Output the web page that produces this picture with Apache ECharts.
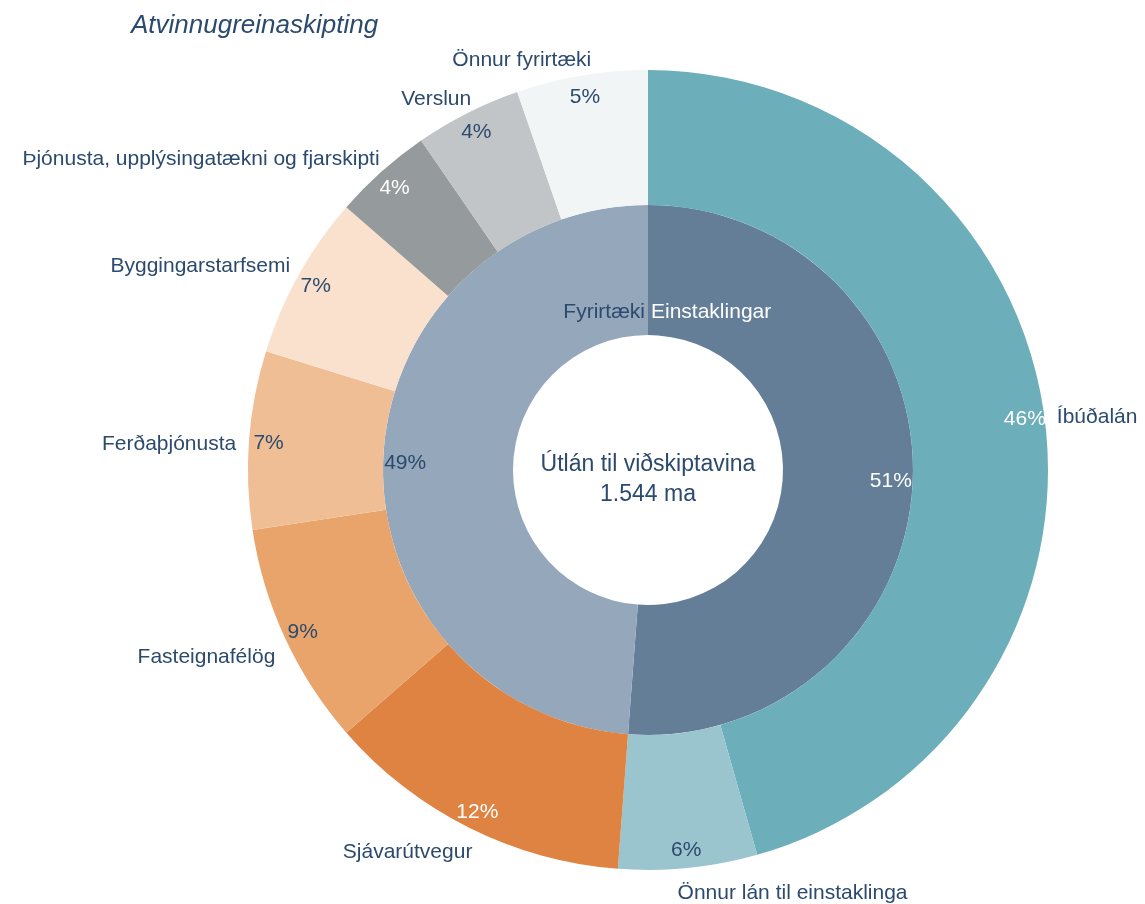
<!DOCTYPE html>
<html>
<head>
<meta charset="utf-8">
<script src="https://cdn.jsdelivr.net/npm/echarts@6/dist/echarts.min.js"></script>
<style>
  html, body { margin: 0; padding: 0; background: #fff; }
  #chart { width: 1145px; height: 904px; }
</style>
</head>
<body>
<div id="chart"></div>
<script>
// inner ring: customer groups
const groupNames = ['Einstaklingar', 'Fyrirtæki'];
const groupColors = ['#647e98', '#95a7bb'];
const groupLabelColors = ['#ffffff', '#2b4a6d'];

// outer ring: sectors (share of loans, %)
const sectorNames = [
  'Íbúðalán', 'Önnur lán til einstaklinga', 'Sjávarútvegur', 'Fasteignafélög',
  'Ferðaþjónusta', 'Byggingarstarfsemi', 'Þjónusta, upplýsingatækni og fjarskipti',
  'Verslun', 'Önnur fyrirtæki'
];
const sectorValues = [45.6, 5.6, 12.4, 9.0, 7.2, 6.6, 4.0, 4.3, 5.3];
const sectorColors = [
  '#6caeba', '#9ac5ce', '#df8342', '#e9a46c', '#f0be94', '#f9e1cd',
  '#959a9c', '#c2c5c8', '#f2f5f6'
];
const sectorLabelColors = [
  '#ffffff', '#2b4a6d', '#ffffff', '#2b4a6d', '#2b4a6d', '#2b4a6d',
  '#ffffff', '#2b4a6d', '#2b4a6d'
];
// individuals = first two sectors, companies = the rest
const groupValues = [
  sectorValues[0] + sectorValues[1],
  sectorValues.slice(2).reduce((a, b) => a + b, 0)
];

const CX = 648, CY = 470;
const textColor = '#2b4a6d';
const font = 'Liberation Sans, Arial, sans-serif';

const chart = echarts.init(document.getElementById('chart'));

chart.setOption({
  backgroundColor: '#fff',
  animation: false,
  title: {
    text: 'Atvinnugreinaskipting',
    left: 126, top: 8,
    textStyle: { fontFamily: font, fontSize: 26, fontStyle: 'italic', fontWeight: 'normal', color: textColor }
  },
  graphic: [{
    type: 'text',
    x: CX, y: CY + 10,
    style: {
      text: 'Útlán til viðskiptavina\n1.544 ma',
      fill: textColor, font: '23px ' + font,
      textAlign: 'center', textVerticalAlign: 'middle', lineHeight: 30
    }
  }],
  series: [
    // inner ring
    {
      type: 'pie', silent: true,
      center: [CX, CY], radius: [135, 265],
      startAngle: 90,
      label: { position: 'inside', formatter: '{b}', fontFamily: font, fontSize: 21 },
      labelLayout: p => {
        const left = p.dataIndex === 1;
        return { x: CX + (left ? -3 : 3), y: CY - 158, align: left ? 'right' : 'left', verticalAlign: 'middle' };
      },
      data: groupNames.map((n, i) => ({
        name: n, value: groupValues[i],
        itemStyle: { color: groupColors[i] },
        label: { color: groupLabelColors[i] }
      }))
    },
    // inner ring percent labels
    {
      type: 'pie', silent: true,
      center: [CX, CY], radius: [215, 265],
      startAngle: 90, percentPrecision: 0,
      label: { position: 'inside', formatter: '{d}%', fontFamily: font, fontSize: 21 },
      labelLayout: { dy: 2 },
      data: groupNames.map((n, i) => ({
        name: n, value: groupValues[i],
        itemStyle: { color: 'transparent' },
        label: { color: groupLabelColors[i] }
      }))
    },
    // outer ring with names outside
    {
      type: 'pie', silent: true,
      center: [CX, CY], radius: [265, 400],
      startAngle: 90,
      label: {
        position: 'outside', formatter: '{b}', distanceToLabelLine: 0,
        fontFamily: font, fontSize: 21, color: textColor
      },
      labelLine: { show: false, length: 8, length2: 0 },
      labelLayout: p => {
        const r = p.labelRect;
        const ax = p.align === 'right' ? r.x + r.width : r.x;
        const ay = r.y + r.height / 2;
        const th = Math.atan2(ax - CX, CY - ay);
        const s = Math.sin(th), c = Math.cos(th);
        const bottom = 4 * Math.max(0, Math.min(1, (-c - 0.5) / 0.4));
        return {
          dx: 5 * s - Math.sign(s) * c * c * 12,
          dy: 3 + 4 * (1 - Math.abs(c)) + bottom - Math.sign(c) * Math.min(1, Math.abs(c) * 2.5) * 10
        };
      },
      data: sectorNames.map((n, i) => ({
        name: n, value: sectorValues[i], itemStyle: { color: sectorColors[i] }
      }))
    },
    // outer ring percent labels
    {
      type: 'pie', silent: true,
      center: [CX, CY], radius: [355, 400],
      startAngle: 90, percentPrecision: 0,
      label: { position: 'inside', formatter: '{d}%', fontFamily: font, fontSize: 21 },
      labelLayout: { dy: 2 },
      data: sectorNames.map((n, i) => ({
        name: n, value: sectorValues[i],
        itemStyle: { color: 'transparent' },
        label: { color: sectorLabelColors[i] }
      }))
    }
  ]
});
</script>
</body>
</html>
